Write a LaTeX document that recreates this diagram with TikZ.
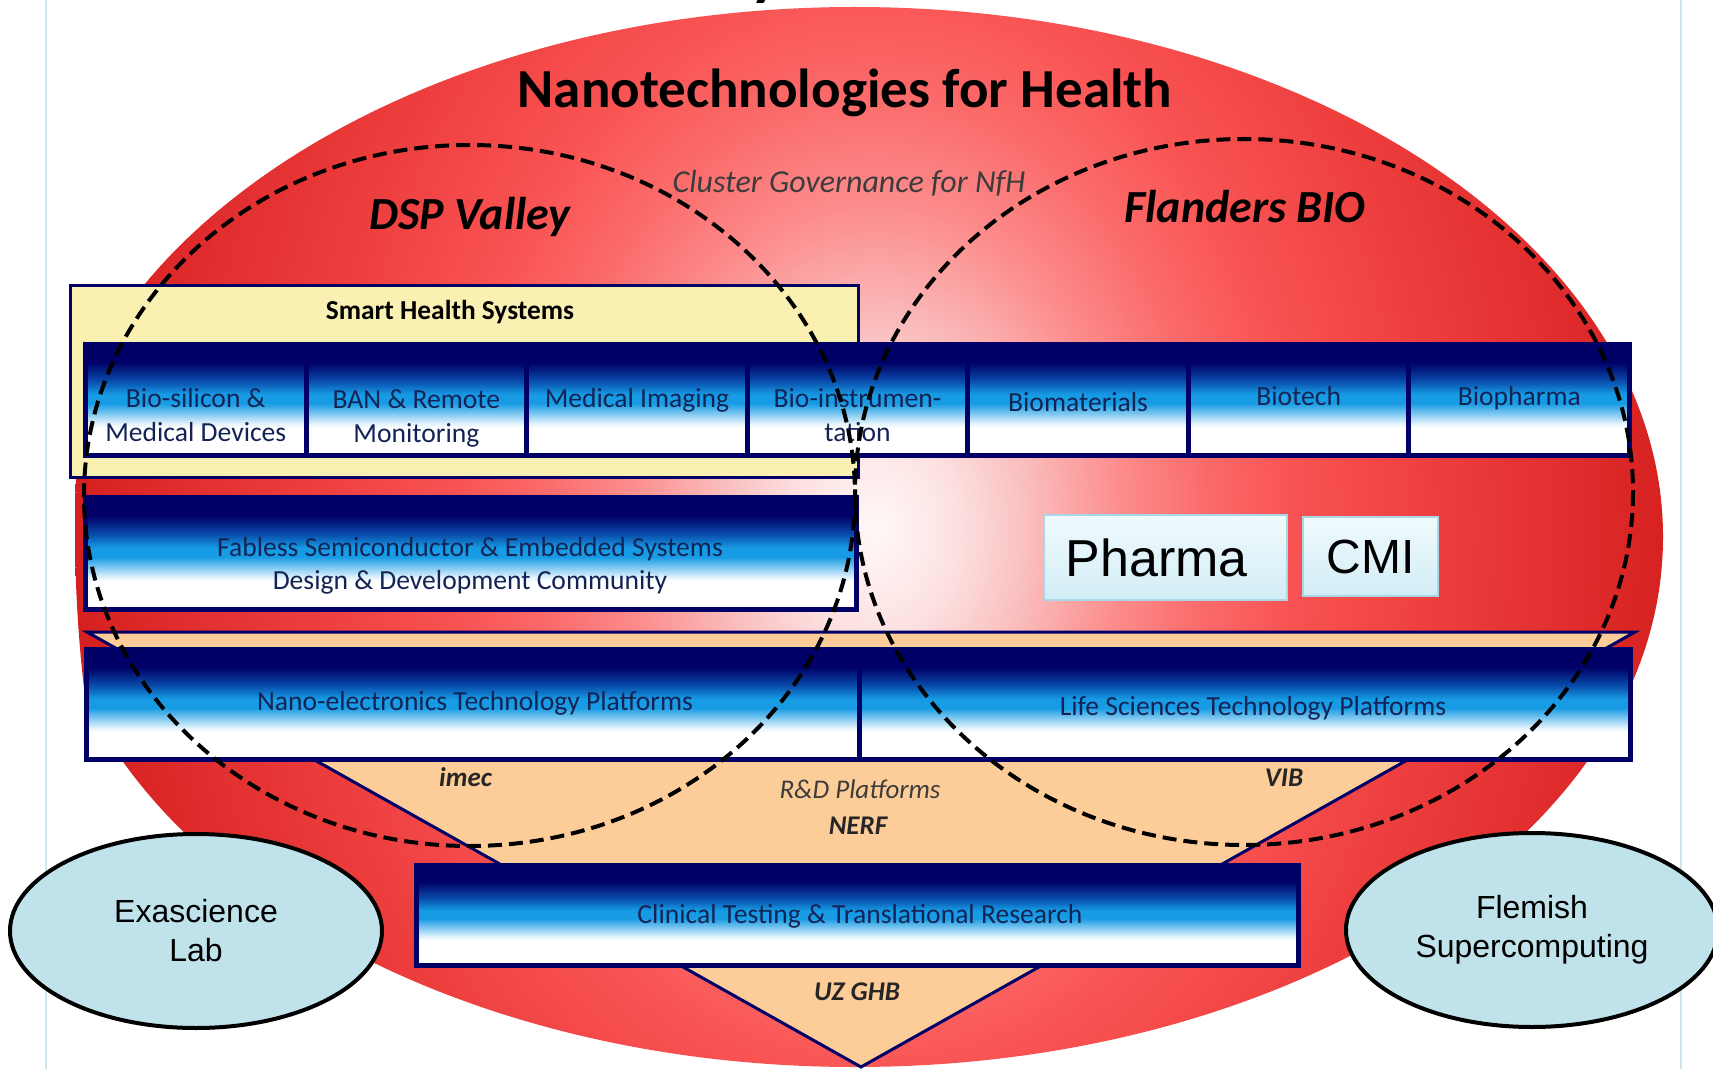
\documentclass[tikz,border=0pt]{standalone}
\usepackage{fontspec}
\setmainfont{Carlito}
\newfontfamily\arialfont{Liberation Sans}
\usepackage{tikz}
\usetikzlibrary{shapes.geometric}

\definecolor{mynavy}{RGB}{0,0,102}
\definecolor{myink}{RGB}{20,35,85}
\definecolor{myblue}{RGB}{22,155,228}
\definecolor{mydeep}{RGB}{8,72,168}
\definecolor{mypale}{RGB}{225,242,252}
\definecolor{myyellow}{RGB}{250,240,178}
\definecolor{mypeach}{RGB}{252,205,152}
\definecolor{mybubble}{RGB}{192,226,235}
\definecolor{myice}{RGB}{240,250,253}
\definecolor{myfrost}{RGB}{210,237,246}
\definecolor{myfrostline}{RGB}{170,215,232}
\definecolor{mypane}{RGB}{205,230,240}
\definecolor{mygrey}{RGB}{60,60,60}
% red glow, from the middle out
\definecolor{glowa}{RGB}{255,248,248}
\definecolor{glowb}{RGB}{253,225,225}
\definecolor{glowc}{RGB}{250,195,195}
\definecolor{glowd}{RGB}{252,140,140}
\definecolor{glowe}{RGB}{251,105,105}
\definecolor{glowf}{RGB}{249,82,82}
\definecolor{glowg}{RGB}{236,60,60}
\definecolor{glowh}{RGB}{224,44,44}
\definecolor{glowi}{RGB}{214,32,32}

\pgfdeclareradialshading{nfhglow}{\pgfpointorigin}{%
  color(0bp)=(glowa); color(2.5bp)=(glowb); color(4.5bp)=(glowc);
  color(7.75bp)=(glowd); color(10.5bp)=(glowe); color(13.25bp)=(glowf);
  color(18bp)=(glowg); color(22bp)=(glowh); color(25bp)=(glowi);
  color(50bp)=(glowi)}
\pgfdeclareverticalshading{platform}{100bp}{%
  color(0bp)=(white); color(37.5bp)=(white); color(39.5bp)=(mypale);
  color(48.5bp)=(myblue); color(52.5bp)=(myblue); color(59bp)=(mydeep);
  color(67bp)=(mynavy); color(100bp)=(mynavy)}

\tikzset{
  cell/.style={draw=mynavy, line width=2.5pt, shade, shading=platform},
  celltext/.style={text=myink, align=center, font=\fontsize{13.8}{17}\selectfont},
  headline/.style={font=\bfseries\fontsize{27.5}{32}\selectfont},
  clustername/.style={font=\bfseries\itshape\fontsize{23}{27}\selectfont},
  governance/.style={text=mygrey, font=\itshape\fontsize{16}{19}\selectfont},
  platformnote/.style={text=mygrey, font=\itshape\fontsize{13.5}{16}\selectfont},
  partner/.style={text=black!85, font=\bfseries\itshape\fontsize{13.5}{16}\selectfont},
  dashring/.style={black, line width=2pt, dash pattern=on 7pt off 3.5pt},
  tile/.style={rectangle, draw=myfrostline, line width=0.6pt, top color=myice,
    bottom color=myfrost, inner sep=0pt},
  bubble/.style={ellipse, draw=black, line width=2pt, fill=mybubble,
    minimum width=186pt, minimum height=97pt, inner sep=0pt, align=center,
    font=\arialfont\fontsize{16}{19.5}\selectfont}
}

\begin{document}
\begin{tikzpicture}[x=0.5pt, y=-0.5pt]
  \useasboundingbox (0,0) rectangle (1713,1069);

  % Page rules
  \draw[mypane, line width=1pt] (46,0) -- (46,1069);
  \draw[mypane, line width=1pt] (1681,0) -- (1681,1069);

  % Big red oval
  \begin{scope}
    \clip (855,537) ellipse [x radius=808, y radius=530];
    \shade[shading=nfhglow] (875,530) ellipse [x radius=800, y radius=1050];
  \end{scope}

  % Smart health frame
  \draw[mynavy, fill=myyellow, line width=1.5pt] (70,286) rectangle (858,477);

  % Row of seven domains
  \foreach \i in {0,...,6} {
    \path[cell] ({85.5+220.57*\i},344.5) rectangle ++(220.57,111);
  }

  % Design community bar
  \path[cell] (85.5,497.5) rectangle (856.5,609.5);

  % R&D funnel
  \draw[mynavy, fill=mypeach, line width=1.5pt] (87,632) -- (1635,632) -- (861,1067) -- cycle;

  % Platforms and clinical bar
  \path[cell] (86.5,649.5) rectangle (859,759.5);
  \path[cell] (859,649.5) rectangle (1630.5,759.5);
  \path[cell] (416.5,865.5) rectangle (1298.5,965.5);

  % Texts of the bars
  \node[font=\bfseries\fontsize{13.7}{16}\selectfont, anchor=base] (shs) at (450,320) {Smart Health Systems};
  \node[celltext] (biosil) at (195.8,415.5) {Bio-silicon \&\\Medical Devices};
  \node[celltext] (ban) at (416.4,418) {BAN \& Remote\\Monitoring};
  \node[celltext, anchor=base] (imaging) at (637,408) {Medical Imaging};
  \node[celltext] (instr) at (857.5,415) {Bio-instrumen-\\tation};
  \node[celltext, anchor=base] (biomat) at (1078.1,411.5) {Biomaterials};
  \node[celltext, anchor=base] (biotech) at (1298.7,406) {Biotech};
  \node[celltext, anchor=base] (biopharma) at (1519.3,406) {Biopharma};
  \node[celltext, font=\fontsize{13.8}{16.5}\selectfont] (fabless) at (470,565.5)
    {Fabless Semiconductor \& Embedded Systems\\Design \& Development Community};
  \node[celltext, anchor=base] (nano) at (475,710) {Nano-electronics Technology Platforms};
  \node[celltext, anchor=base] (life) at (1253,715) {Life Sciences Technology Platforms};
  \node[celltext, anchor=base] (clinic) at (860,923) {Clinical Testing \& Translational Research};

  % Platform owners
  \node[partner, anchor=base] (imec) at (465.5,786) {imec};
  \node[partner, anchor=base] (vib) at (1284,786) {VIB};
  \node[platformnote, anchor=base] (rnd) at (860,798) {R\&D Platforms};
  \node[partner, anchor=base] (nerf) at (858,834) {NERF};
  \node[partner, anchor=base] (uzghb) at (857,1000) {UZ GHB};

  % Pharma and CMI tiles
  \node[tile, minimum width=121.5pt, minimum height=42.5pt, text width=100pt, align=left,
    font=\arialfont\fontsize{26}{30}\selectfont] (pharma) at (1165.5,557.5) {Pharma};
  \node[tile, minimum width=67.5pt, minimum height=39.5pt,
    font=\arialfont\fontsize{24}{28}\selectfont] (cmi) at (1370.5,556.5) {CMI};

  % Two clusters
  \draw[dashring] (469.5,495.5) ellipse [x radius=385.5, y radius=350.5];
  \draw[dashring] (1244,492) ellipse [x radius=389, y radius=353];

  % Headings
  \node[headline, anchor=base] (title) at (845,108) {Nanotechnologies for Health};
  \node[clustername, anchor=base] (dsp) at (470,230) {DSP Valley};
  \node[clustername, anchor=base] (fbio) at (1245,223) {Flanders BIO};
  \node[governance, anchor=base] (gov) at (849,193) {Cluster Governance for NfH};
  \node[font=\bfseries\fontsize{32}{36}\selectfont, anchor=base] (cut) at (766,-6) {y};

  % Partners outside
  \node[bubble] (exa) at (196,931) {Exascience\\Lab};
  \node[bubble] (flemish) at (1532,930) {Flemish\\Supercomputing};
\end{tikzpicture}
\end{document}
